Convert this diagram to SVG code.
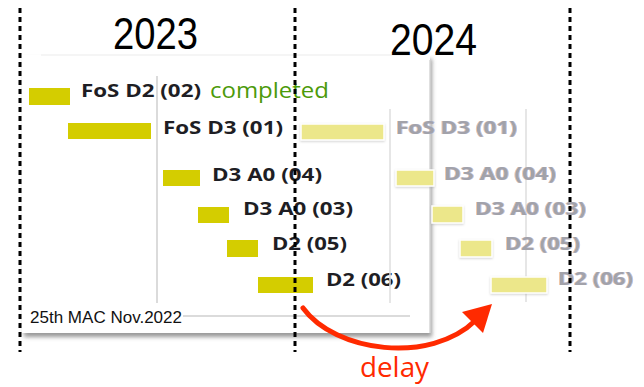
<svg xmlns="http://www.w3.org/2000/svg" width="644" height="387" viewBox="0 0 644 387">
<style>
.yr{font-family:"Liberation Sans","Open Sans",sans-serif;font-size:44px;fill:#000}
.lb{font-family:"Open Sans","Liberation Sans",sans-serif;font-size:17px;font-weight:700;fill:#1e1e24}
.gl{font-family:"Open Sans","Liberation Sans",sans-serif;font-size:17px;font-weight:700;fill:#a2a2aa}
.bar{fill:#d4cd00}
.gbar{fill:#ece78a;stroke:#fff;stroke-width:1.5}
.grid{stroke:#000;stroke-width:3;stroke-dasharray:5 4;fill:none}
.thin{stroke:#cfcfcf;stroke-width:1.5;fill:none}
.gthin{stroke:#dedede;stroke-width:1.5;fill:none}
</style>
<defs>
<filter id="sh" x="-5%" y="-5%" width="115%" height="115%">
<feDropShadow dx="2" dy="4" stdDeviation="2" flood-color="#555" flood-opacity="0.6"/>
</filter>
<filter id="gs" x="-10%" y="-30%" width="120%" height="160%">
<feDropShadow dx="0" dy="1" stdDeviation="1" flood-color="#999" flood-opacity="0.45"/>
</filter>
<filter id="fringe" x="-5%" y="-20%" width="110%" height="140%">
<feOffset in="SourceAlpha" dx="-1" dy="0" result="a"/>
<feFlood flood-color="#e8b080" flood-opacity="0.7"/>
<feComposite in2="a" operator="in" result="o"/>
<feOffset in="SourceAlpha" dx="1" dy="0" result="b"/>
<feFlood flood-color="#8fb0e8" flood-opacity="0.7"/>
<feComposite in2="b" operator="in" result="bl"/>
<feMerge><feMergeNode in="o"/><feMergeNode in="bl"/><feMergeNode in="SourceGraphic"/></feMerge>
</filter>
</defs>
<rect width="644" height="387" fill="#fff"/>

<g id="panel">
<rect x="22" y="55" width="408" height="278" fill="#fff" filter="url(#sh)"/>
<line x1="41" y1="55" x2="410" y2="55" stroke="#ececec" stroke-width="1"/>
<line x1="430" y1="60" x2="430" y2="333" stroke="#d6d6d6" stroke-width="1.5"/>
<line class="thin" x1="157" y1="76" x2="157" y2="303"/>
<line class="thin" x1="183" y1="316" x2="410" y2="316"/>
<text x="30" y="323" font-family="Liberation Sans, Arial, sans-serif" font-size="17" fill="#111" textLength="152" lengthAdjust="spacingAndGlyphs">25th MAC Nov.2022</text>
</g>

<g id="task-fos-d2-02">
<rect class="bar" x="29" y="88" width="41" height="17"/>
<text class="lb" x="81" y="97" textLength="120" lengthAdjust="spacingAndGlyphs">FoS D2 (02)</text>
<text x="210" y="98" font-family="Open Sans, Liberation Sans, sans-serif" font-size="22" fill="#4c9a0a" textLength="119" lengthAdjust="spacingAndGlyphs">completed</text>
</g>
<g id="task-fos-d3-01">
<rect class="bar" x="68" y="123" width="83" height="16"/>
<text class="lb" x="163" y="134" textLength="120" lengthAdjust="spacingAndGlyphs">FoS D3 (01)</text>
</g>
<g id="task-d3-a0-04">
<rect class="bar" x="163" y="170" width="37" height="16"/>
<text class="lb" x="212" y="181" textLength="110" lengthAdjust="spacingAndGlyphs">D3 A0 (04)</text>
</g>
<g id="task-d3-a0-03">
<rect class="bar" x="198" y="207" width="31" height="16"/>
<text class="lb" x="243" y="215" textLength="110" lengthAdjust="spacingAndGlyphs">D3 A0 (03)</text>
</g>
<g id="task-d2-05">
<rect class="bar" x="227" y="240" width="31" height="17"/>
<text class="lb" x="272" y="250" textLength="75" lengthAdjust="spacingAndGlyphs">D2 (05)</text>
</g>
<g id="task-d2-06">
<rect class="bar" x="258" y="277" width="55" height="16"/>
<text class="lb" x="326" y="286" textLength="75" lengthAdjust="spacingAndGlyphs">D2 (06)</text>
</g>

<g id="ghost-chart">
<line class="gthin" x1="390" y1="109" x2="390" y2="303"/>
<line class="gthin" x1="526" y1="109" x2="526" y2="302"/>
<g id="ghost-fos-d3-01" filter="url(#gs)"><rect class="gbar" x="301" y="124" width="83" height="16"/></g>
<text class="gl" x="396" y="134" textLength="121" lengthAdjust="spacingAndGlyphs" filter="url(#fringe)">FoS D3 (01)</text>
<g id="ghost-d3-a0-04" filter="url(#gs)"><rect class="gbar" x="396" y="170" width="38" height="16"/></g>
<text class="gl" x="444" y="180" textLength="112" lengthAdjust="spacingAndGlyphs" filter="url(#fringe)">D3 A0 (04)</text>
<g id="ghost-d3-a0-03" filter="url(#gs)"><rect class="gbar" x="432" y="206" width="31" height="17"/></g>
<text class="gl" x="475" y="215" textLength="111" lengthAdjust="spacingAndGlyphs" filter="url(#fringe)">D3 A0 (03)</text>
<g id="ghost-d2-05" filter="url(#gs)"><rect class="gbar" x="460" y="240" width="32" height="17"/></g>
<text class="gl" x="505" y="250" textLength="75" lengthAdjust="spacingAndGlyphs" filter="url(#fringe)">D2 (05)</text>
<g id="ghost-d2-06" filter="url(#gs)"><rect class="gbar" x="491" y="277" width="56" height="16"/></g>
<text class="gl" x="558" y="285" textLength="75" lengthAdjust="spacingAndGlyphs" filter="url(#fringe)">D2 (06)</text>
</g>

<g id="grid">
<line class="grid" x1="20" y1="8" x2="20" y2="352"/>
<line class="grid" x1="295" y1="8" x2="295" y2="352"/>
<line class="grid" x1="570" y1="8" x2="570" y2="352"/>
</g>

<g id="year-2023"><text class="yr" x="113" y="49" textLength="85" lengthAdjust="spacingAndGlyphs">2023</text></g>
<g id="year-2024"><text class="yr" x="390" y="55" textLength="87" lengthAdjust="spacingAndGlyphs">2024</text></g>

<g id="connectors">
<path d="M303,308 C335,352 430,365 476,320" fill="none" stroke="#ff2a00" stroke-width="5" stroke-linecap="round"/>
<polygon points="492,304 462,312 483,333" fill="#ff2a00"/>
</g>
<g id="delay-label">
<text x="360" y="377" font-family="Open Sans, Liberation Sans, sans-serif" font-size="28" fill="#ff2a00" textLength="69" lengthAdjust="spacingAndGlyphs">delay</text>
</g>
</svg>
